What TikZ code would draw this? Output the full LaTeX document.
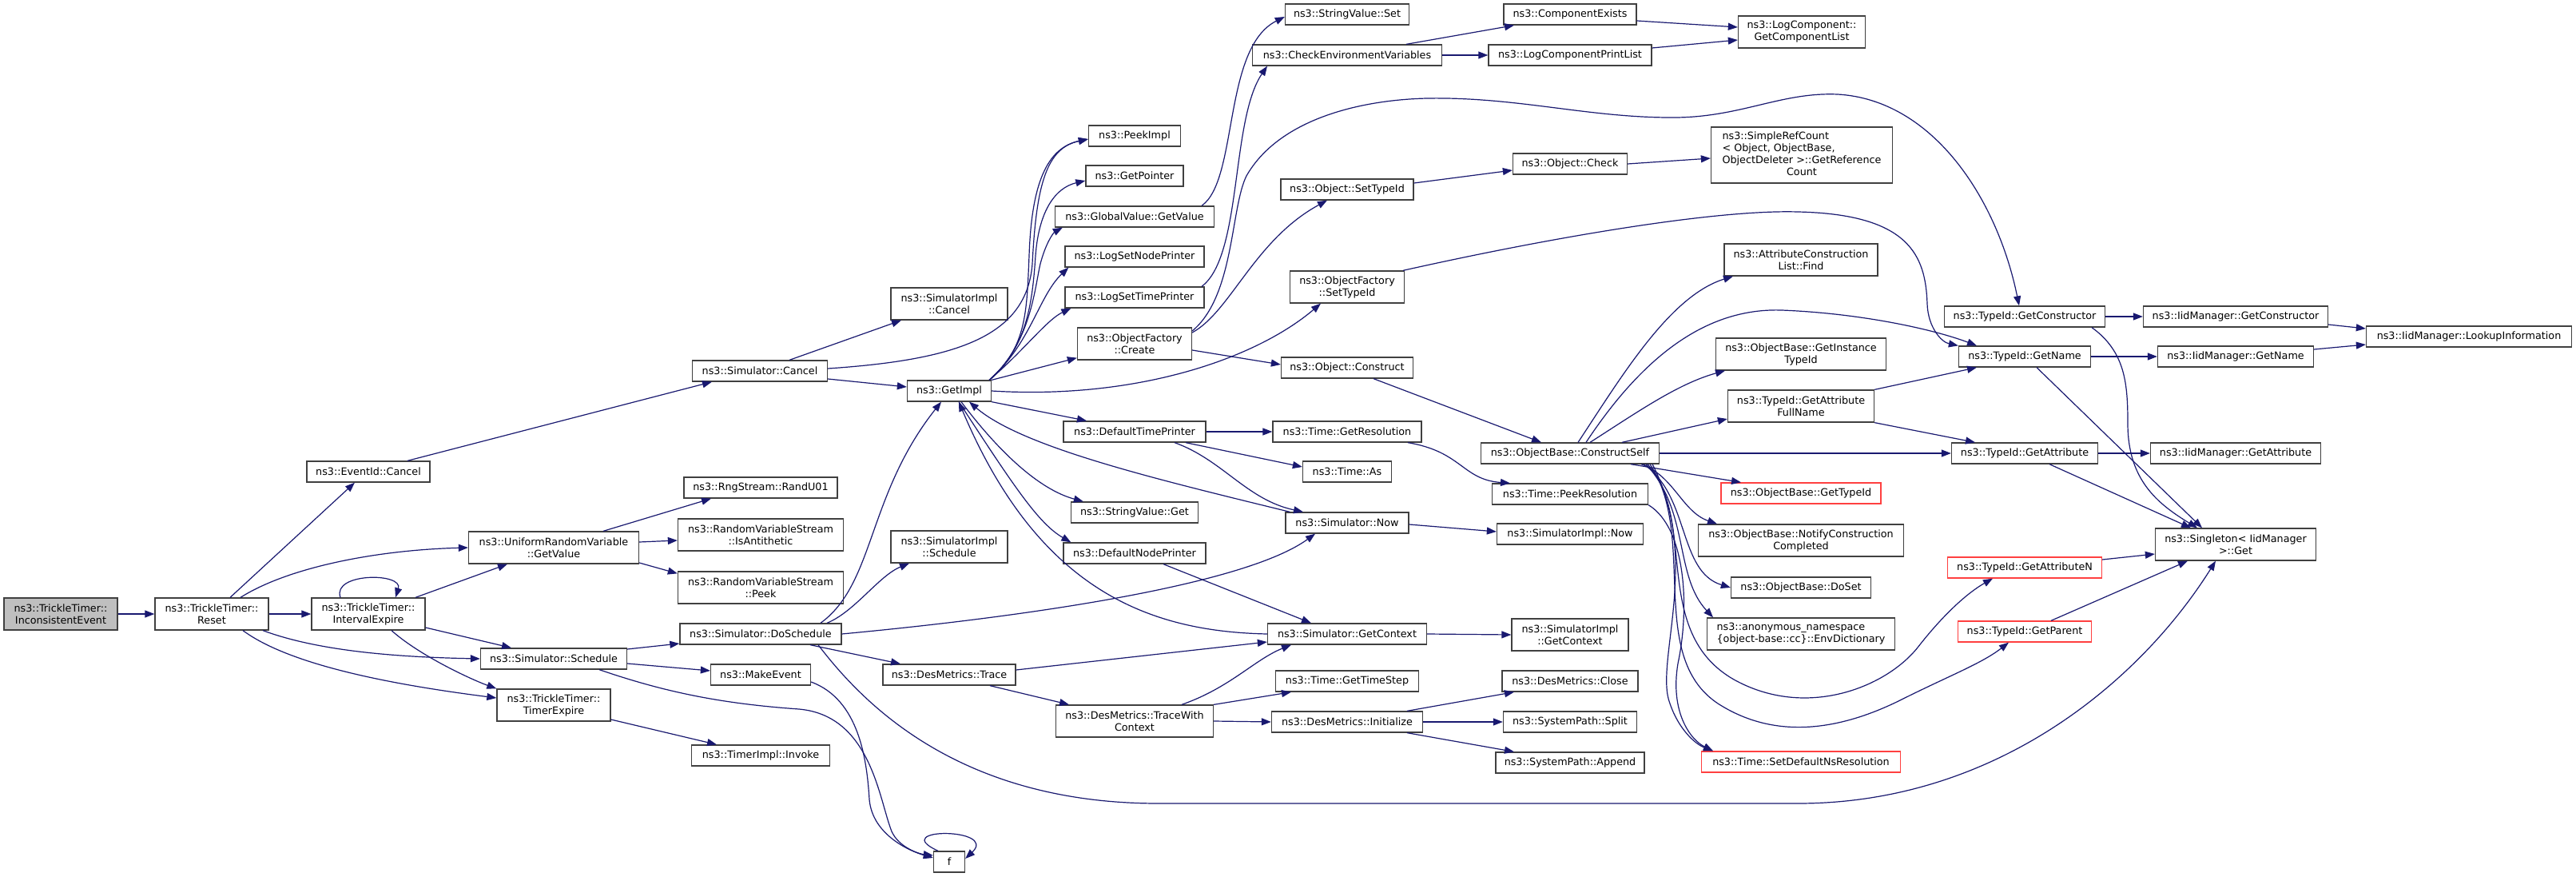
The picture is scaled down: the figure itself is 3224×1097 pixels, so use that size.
\documentclass[tikz,border=0pt]{standalone}
\usepackage{fontspec}
\setmainfont{DejaVu Sans}
\usetikzlibrary{arrows.meta}
\definecolor{edgec}{HTML}{191970}
\definecolor{bord}{HTML}{404040}
\definecolor{redb}{HTML}{FF4040}
\definecolor{rootf}{HTML}{BFBFBF}
\newcommand\nf{\fontsize{12.75}{15}\selectfont}
\newcommand\fnode[6][]{\node[fn,minimum width=#5pt,#1] (#2) at (#3,#4) {#6};}
\begin{document}
\begin{tikzpicture}[x=1pt,y=-1pt,
  fn/.style={rectangle,draw=bord,line width=1.3pt,fill=white,font=\nf,align=center,
    inner xsep=2pt,inner ysep=0pt,minimum height=26pt},
  h2/.style={minimum height=40pt},
  h4/.style={minimum height=70pt},
  redfn/.style={draw=redb},
  rootfn/.style={fill=rootf},
  cl/.style={draw=edgec,line width=1.2pt,-{Triangle[length=12pt,width=9pt]},fill=none}]
\fill[white] (0,0) rectangle (3224,1097);
\useasboundingbox (0,0) rectangle (3224,1097);
% column 0-3
\fnode[h2,rootfn]{ie}{76}{768}{142}{ns3::TrickleTimer::\\InconsistentEvent}
\fnode[h2]{reset}{265}{768}{142}{ns3::TrickleTimer::\\Reset}
\fnode{ecancel}{461}{590}{154}{ns3::EventId::Cancel}
\fnode[h2]{iexp}{461}{768}{142}{ns3::TrickleTimer::\\IntervalExpire}
\fnode[h2]{urv}{693}{685}{213}{ns3::UniformRandomVariable\\::GetValue}
\fnode{sched}{693}{824}{183}{ns3::Simulator::Schedule}
\fnode[h2]{texp}{693}{882}{142}{ns3::TrickleTimer::\\TimerExpire}
% column 4
\fnode{scancel}{951}{464}{169}{ns3::Simulator::Cancel}
\fnode{rand}{952}{610}{192}{ns3::RngStream::RandU01}
\fnode[h2]{anti}{952}{669}{207}{ns3::RandomVariableStream\\::IsAntithetic}
\fnode[h2]{peek}{952}{735}{207}{ns3::RandomVariableStream\\::Peek}
\fnode{dosch}{952}{793}{202}{ns3::Simulator::DoSchedule}
\fnode{mkev}{952}{844}{125}{ns3::MakeEvent}
\fnode{tinv}{952}{945}{173}{ns3::TimerImpl::Invoke}
% column 5
\fnode[h2]{sicancel}{1188}{380}{146}{ns3::SimulatorImpl\\::Cancel}
\fnode{getimpl}{1188}{489}{105}{ns3::GetImpl}
\fnode[h2]{sisched}{1188}{684}{146}{ns3::SimulatorImpl\\::Schedule}
\fnode{trace}{1188}{844}{166}{ns3::DesMetrics::Trace}
\fnode{f}{1188}{1078}{39}{f}
% column 6
\fnode{peekimpl}{1420}{170}{115}{ns3::PeekImpl}
\fnode{getptr}{1420}{220}{122}{ns3::GetPointer}
\fnode{gvget}{1420}{271}{199}{ns3::GlobalValue::GetValue}
\fnode{lsnp}{1420}{321}{174}{ns3::LogSetNodePrinter}
\fnode{lstp}{1420}{372}{174}{ns3::LogSetTimePrinter}
\fnode[h2]{ofcreate}{1420}{430}{143}{ns3::ObjectFactory\\::Create}
\fnode{dtp}{1420}{540}{178}{ns3::DefaultTimePrinter}
\fnode{svget}{1420}{641}{159}{ns3::StringValue::Get}
\fnode{dnp}{1420}{692}{178}{ns3::DefaultNodePrinter}
\fnode[h2]{twc}{1420}{902}{197}{ns3::DesMetrics::TraceWith\\Context}
% column 7
\fnode{svset}{1686}{18}{155}{ns3::StringValue::Set}
\fnode{cev}{1686}{69}{237}{ns3::CheckEnvironmentVariables}
\fnode{osettid}{1686}{237}{166}{ns3::Object::SetTypeId}
\fnode[h2]{ofsettid}{1686}{359}{143}{ns3::ObjectFactory\\::SetTypeId}
\fnode{ocons}{1686}{460}{165}{ns3::Object::Construct}
\fnode{tgetres}{1686}{540}{186}{ns3::Time::GetResolution}
\fnode{tas}{1686}{590}{111}{ns3::Time::As}
\fnode{snow}{1686}{654}{154}{ns3::Simulator::Now}
\fnode{sgetctx}{1686}{793}{199}{ns3::Simulator::GetContext}
\fnode{tgts}{1686}{852}{179}{ns3::Time::GetTimeStep}
\fnode{dminit}{1686}{903}{189}{ns3::DesMetrics::Initialize}
% column 8
\fnode{cexists}{1965}{18}{166}{ns3::ComponentExists}
\fnode{lcpl}{1965}{69}{204}{ns3::LogComponentPrintList}
\fnode{ocheck}{1965}{205}{143}{ns3::Object::Check}
\fnode{cself}{1965}{567}{223}{ns3::ObjectBase::ConstructSelf}
\fnode{tpeekres}{1965}{618}{195}{ns3::Time::PeekResolution}
\fnode{sinow}{1965}{668}{183}{ns3::SimulatorImpl::Now}
\fnode[h2]{sigetctx}{1965}{794}{146}{ns3::SimulatorImpl\\::GetContext}
\fnode{dmclose}{1965}{852}{170}{ns3::DesMetrics::Close}
\fnode{spsplit}{1965}{903}{167}{ns3::SystemPath::Split}
\fnode{spappend}{1965}{954}{186}{ns3::SystemPath::Append}
% column 9
\fnode[h2]{gcl}{2255}{40}{159}{ns3::LogComponent::\\GetComponentList}
\fnode[h4]{src}{2255}{194}{227}{\begin{tabular}{@{}l@{}}ns3::SimpleRefCount\\< Object, ObjectBase,\\\multicolumn{1}{@{}c@{}}{ObjectDeleter >::GetReference}\\\multicolumn{1}{@{}c@{}}{Count}\end{tabular}}
\fnode[h2]{acfind}{2254}{325}{192}{ns3::AttributeConstruction\\List::Find}
\fnode[h2]{gitid}{2254}{443}{213}{ns3::ObjectBase::GetInstance\\TypeId}
\fnode[h2]{gafn}{2254}{508}{183}{ns3::TypeId::GetAttribute\\FullName}
\fnode[redfn]{obgtid}{2254}{617}{200}{ns3::ObjectBase::GetTypeId}
\fnode[h2]{ncc}{2254}{676}{257}{ns3::ObjectBase::NotifyConstruction\\Completed}
\fnode{doset}{2254}{735}{175}{ns3::ObjectBase::DoSet}
\fnode[h2,align=left]{envd}{2254}{793}{235}{ns3::anonymous\_namespace\\\{object-base::cc\}::EnvDictionary}
\fnode[redfn]{sdns}{2254}{953}{249}{ns3::Time::SetDefaultNsResolution}
% column 10
\fnode{tgc}{2534}{396}{201}{ns3::TypeId::GetConstructor}
\fnode{tgn}{2534}{446}{165}{ns3::TypeId::GetName}
\fnode{tga}{2534}{567}{183}{ns3::TypeId::GetAttribute}
\fnode[redfn]{tgan}{2534}{710}{193}{ns3::TypeId::GetAttributeN}
\fnode[redfn]{tgp}{2534}{790}{167}{ns3::TypeId::GetParent}
% column 11-12
\fnode{igc}{2798}{396}{231}{ns3::IidManager::GetConstructor}
\fnode{ign}{2798}{446}{195}{ns3::IidManager::GetName}
\fnode{iga}{2798}{567}{213}{ns3::IidManager::GetAttribute}
\fnode[h2]{sing}{2798}{681}{201}{ns3::Singleton< IidManager\\ >::Get}
\fnode{ili}{3090}{421}{257}{ns3::IidManager::LookupInformation}
\coordinate (gs) at ([xshift=-3pt]getimpl.north east);
% ---------------- edges
\draw[cl] (ie) -- (reset);
\draw[cl] ([xshift=23pt]reset.north) -- ([xshift=-17pt]ecancel.south);
\draw[cl] ([xshift=36pt]reset.north) .. controls (360,710) and (470,688) .. (urv.west);
\draw[cl] (reset) -- (iexp);
\draw[cl] ([xshift=64pt]reset.south) .. controls (400,815) and (500,822) .. (sched.west);
\draw[cl] ([xshift=39pt]reset.south) .. controls (360,830) and (480,855) .. ([yshift=9pt]texp.west);
\draw[cl] ([xshift=-35pt]iexp.north) .. controls (415,716) and (505,716) .. ([xshift=34pt]iexp.north);
\draw[cl] ([xshift=59pt]iexp.north) -- ([xshift=-58pt]urv.south);
\draw[cl] ([yshift=-17pt]iexp.east) -- ([xshift=-53pt]sched.north);
\draw[cl] ([xshift=29pt]iexp.south) .. controls (525,820) and (590,850) .. (texp.north west);
\draw[cl] ([xshift=49pt]ecancel.north) -- ([xshift=-60pt]scancel.south);
\draw[cl] ([xshift=62pt]urv.north) -- ([xshift=-62pt]rand.south);
\draw[cl] ([yshift=7pt]urv.east) -- ([yshift=-7pt]anti.west);
\draw[cl] ([yshift=-19pt]urv.east) -- ([yshift=-3pt]peek.north west);
\draw[cl] ([yshift=12pt]sched.east) -- ([yshift=-12pt]dosch.west);
\draw[cl] ([yshift=-6pt]sched.east) -- ([yshift=5pt]mkev.west);
\draw[cl] ([xshift=57pt]sched.south) .. controls (830,865) and (900,880) .. (1000,887) .. controls (1090,895) and (1100,1000) .. (1116,1040) .. controls (1125,1060) and (1150,1068) .. ([yshift=8pt]f.west);
\draw[cl] ([yshift=-18pt]texp.east) -- ([xshift=-55pt]tinv.north);
\draw[cl] ([yshift=-9pt]mkev.east) .. controls (1075,875) and (1085,950) .. (1088,1000) .. controls (1092,1045) and (1140,1065) .. ([yshift=5pt]f.west);
\draw[cl] ([xshift=-14pt]f.north) .. controls (1110,1035) and (1250,1035) .. ([yshift=4pt]f.east);
\draw[cl] ([xshift=37pt]scancel.north) -- ([xshift=-60pt]sicancel.south);
\draw[cl] ([yshift=-10pt]scancel.east) -- ([yshift=5pt]getimpl.west);
\draw[cl] ([yshift=3pt]scancel.east) .. controls (1200,450) and (1285,420) .. (1292,330) .. controls (1297,230) and (1310,185) .. ([yshift=-4pt]peekimpl.west);
% GetImpl out
\draw[cl] (gs) .. controls (1285,435) and (1285,390) .. (1288,320) .. controls (1291,230) and (1310,185) .. ([yshift=-4pt]peekimpl.west);
\draw[cl] (gs) .. controls (1285,435) and (1292,380) .. (1296,320) .. controls (1300,265) and (1320,235) .. ([yshift=-6pt]getptr.west);
\draw[cl] (gs) .. controls (1290,430) and (1295,360) .. (1302,330) .. controls (1310,300) and (1320,290) .. ([xshift=10pt]gvget.south west);
\draw[cl] (gs) .. controls (1290,430) and (1300,370) .. ([xshift=5pt]lsnp.south west);
\draw[cl] (gs) .. controls (1280,440) and (1310,400) .. ([xshift=8pt]lstp.south west);
\draw[cl] (getimpl.north east) -- ([yshift=3pt]ofcreate.south west);
\draw[cl] (getimpl.south east) -- ([xshift=-60pt]dtp.north);
\draw[cl] ([xshift=15pt]getimpl.south) .. controls (1250,565) and (1300,612) .. ([xshift=16pt]svget.north west);
\draw[cl] ([xshift=12pt]getimpl.south) .. controls (1270,610) and (1300,655) .. ([xshift=10pt]dnp.north west);
\draw[cl] (getimpl.east) .. controls (1420,500) and (1570,450) .. ([xshift=-33pt]ofsettid.south);
% into GetImpl
\draw[cl] ([xshift=75pt]dosch.north) .. controls (1095,730) and (1085,620) .. ([xshift=-10pt]getimpl.south);
\draw[cl] ([xshift=6pt]snow.north west) .. controls (1450,600) and (1280,560) .. ([xshift=25pt]getimpl.south);
\draw[cl] (sgetctx.west) .. controls (1440,790) and (1300,740) .. ([xshift=12pt]getimpl.south);
% DoSchedule
\draw[cl] ([xshift=83pt]dosch.north) .. controls (1070,765) and (1100,720) .. ([xshift=-50pt]sisched.south);
\draw[cl] ([xshift=62pt]dosch.south) -- ([xshift=-61pt]trace.north);
\draw[cl] (dosch.east) .. controls (1300,770) and (1560,730) .. ([xshift=-40pt]snow.south);
\draw[cl] ([xshift=72pt]dosch.south) .. controls (1080,880) and (1200,1005) .. (1450,1005) -- (2250,1005) .. controls (2500,1005) and (2680,850) .. ([xshift=-25pt]sing.south);
% DefaultTimePrinter etc
\draw[cl] (dtp.east) -- (tgetres.west);
\draw[cl] ([xshift=64pt]dtp.south) -- ([yshift=6pt]tas.west);
\draw[cl] ([xshift=50pt]dtp.south) .. controls (1530,575) and (1560,625) .. ([xshift=-55pt]snow.north);
\draw[cl] ([xshift=76pt]tgetres.south) .. controls (1830,565) and (1830,600) .. ([xshift=-75pt]tpeekres.north);
\draw[cl] ([yshift=-2pt]snow.east) -- ([yshift=3pt]sinow.west);
\draw[cl] (sgetctx.east) -- (sigetctx.west);
\draw[cl] ([xshift=36pt]dnp.south) -- ([xshift=-45pt]sgetctx.north);
\draw[cl] ([yshift=6pt]trace.east) -- ([yshift=-10pt]sgetctx.west);
\draw[cl] ([xshift=59pt]twc.north) .. controls (1540,860) and (1570,825) .. ([xshift=-70pt]sgetctx.south);
\draw[cl] ([xshift=51pt]trace.south) -- ([xshift=-82pt]twc.north);
\draw[cl] (twc.north east) -- ([xshift=-70pt]tgts.south);
\draw[cl] (twc.east) -- (dminit.west);
\draw[cl] ([xshift=75pt]dminit.north) -- ([xshift=-70pt]dmclose.south);
\draw[cl] (dminit.east) -- (spsplit.west);
\draw[cl] ([xshift=75pt]dminit.south) -- ([xshift=-70pt]spappend.north);
% ObjectFactory etc
\draw[cl] ([yshift=-8pt]ofcreate.east) -- ([yshift=4pt]ocons.west);
\draw[cl] ([yshift=14pt]ofcreate.east) .. controls (1540,390) and (1570,300) .. ([xshift=-25pt]osettid.south);
\draw[cl] ([yshift=16pt]ofcreate.east) .. controls (1545,370) and (1540,260) .. (1560,220) .. controls (1600,150) and (1700,125) .. (1786,123) .. controls (1900,121) and (1990,148) .. (2098,147) .. controls (2180,146) and (2230,115) .. (2300,118) .. controls (2420,125) and (2500,250) .. ([xshift=-7pt]tgc.north);
\draw[cl] ([xshift=33pt]ocons.south) -- ([xshift=-36pt]cself.north);
\draw[cl] ([yshift=8pt]osettid.east) -- ([yshift=-8pt]ocheck.west);
\draw[cl] (ocheck.east) -- ([yshift=-4pt]src.west);
\draw[cl] ([xshift=70pt]ofsettid.north) .. controls (1950,295) and (2150,262) .. (2250,265) .. controls (2390,268) and (2410,320) .. (2412,380) .. controls (2413,410) and (2430,428) .. (tgn.north west);
\draw[cl] ([xshift=84pt]gvget.north) .. controls (1550,225) and (1530,60) .. ([yshift=-3pt]svset.west);
\draw[cl] ([xshift=84pt]lstp.north) .. controls (1555,320) and (1540,150) .. ([xshift=-100pt]cev.south);
\draw[cl] ([xshift=74pt]cev.north) -- ([xshift=-70pt]cexists.south);
\draw[cl] (cev.east) -- (lcpl.west);
\draw[cl] ([yshift=-8pt]cexists.east) -- ([yshift=6pt]gcl.west);
\draw[cl] ([yshift=9pt]lcpl.east) -- ([yshift=-10pt]gcl.west);
% ConstructSelf
\draw[cl] ([xshift=10pt]cself.north) .. controls (2030,470) and (2090,370) .. ([xshift=-85pt]acfind.south);
\draw[cl] ([xshift=20pt]cself.north) .. controls (2060,440) and (2140,385) .. (2230,388) .. controls (2330,392) and (2420,412) .. ([xshift=-60pt]tgn.north);
\draw[cl] ([xshift=25pt]cself.north) .. controls (2050,515) and (2100,480) .. ([xshift=-95pt]gitid.south);
\draw[cl] ([xshift=65pt]cself.north) -- ([yshift=-16pt]gafn.west);
\draw[cl] (cself.east) -- (tga.west);
\draw[cl] ([xshift=76pt]cself.south) -- ([xshift=-75pt]obgtid.north);
\draw[cl] ([xshift=89pt]cself.south) .. controls (2095,595) and (2105,640) .. ([xshift=-105pt]ncc.north);
\draw[cl] ([xshift=92pt]cself.south) .. controls (2115,620) and (2100,715) .. (doset.west);
\draw[cl] ([xshift=95pt]cself.south) .. controls (2115,640) and (2095,720) .. ([xshift=-110pt]envd.north);
\draw[cl] ([xshift=97pt]cself.south) .. controls (2125,650) and (2065,790) .. (2170,850) .. controls (2260,900) and (2360,860) .. (2400,810) .. controls (2435,765) and (2465,740) .. ([xshift=-40pt]tgan.south);
\draw[cl] ([xshift=100pt]cself.south) .. controls (2125,670) and (2060,820) .. (2150,880) .. controls (2220,925) and (2300,915) .. (2380,875) .. controls (2440,845) and (2480,830) .. ([xshift=-20pt]tgp.south);
\draw[cl] ([xshift=103pt]cself.south) .. controls (2130,700) and (2070,830) .. (2090,880) .. controls (2100,910) and (2120,930) .. ([xshift=-110pt]sdns.north);
\draw[cl] (tpeekres.south east) .. controls (2110,660) and (2115,760) .. (2100,830) .. controls (2090,890) and (2115,925) .. ([xshift=-110pt]sdns.north);
% TypeId
\draw[cl] (tgn.east) -- (ign.west);
\draw[cl] ([xshift=15pt]tgn.south) -- ([xshift=-42pt]sing.north);
\draw[cl] (tgc.east) -- (igc.west);
\draw[cl] ([xshift=84pt]tgc.south) .. controls (2660,440) and (2663,480) .. (2663,530) .. controls (2663,600) and (2700,630) .. ([xshift=-48pt]sing.north);
\draw[cl] (tga.east) -- (iga.west);
\draw[cl] ([xshift=31pt]tga.south) -- ([xshift=-56pt]sing.north);
\draw[cl] ([yshift=10pt]tgan.east) -- ([yshift=-12pt]sing.west);
\draw[cl] ([xshift=33pt]tgp.north) -- ([xshift=-60pt]sing.south);
\draw[cl] (gafn.north east) -- ([xshift=-60pt]tgn.south);
\draw[cl] (gafn.south east) -- ([xshift=-62pt]tga.north);
\draw[cl] ([yshift=-10pt]igc.east) -- ([yshift=10pt]ili.west);
\draw[cl] ([yshift=9pt]ign.east) -- ([yshift=-10pt]ili.west);
\end{tikzpicture}
\end{document}
